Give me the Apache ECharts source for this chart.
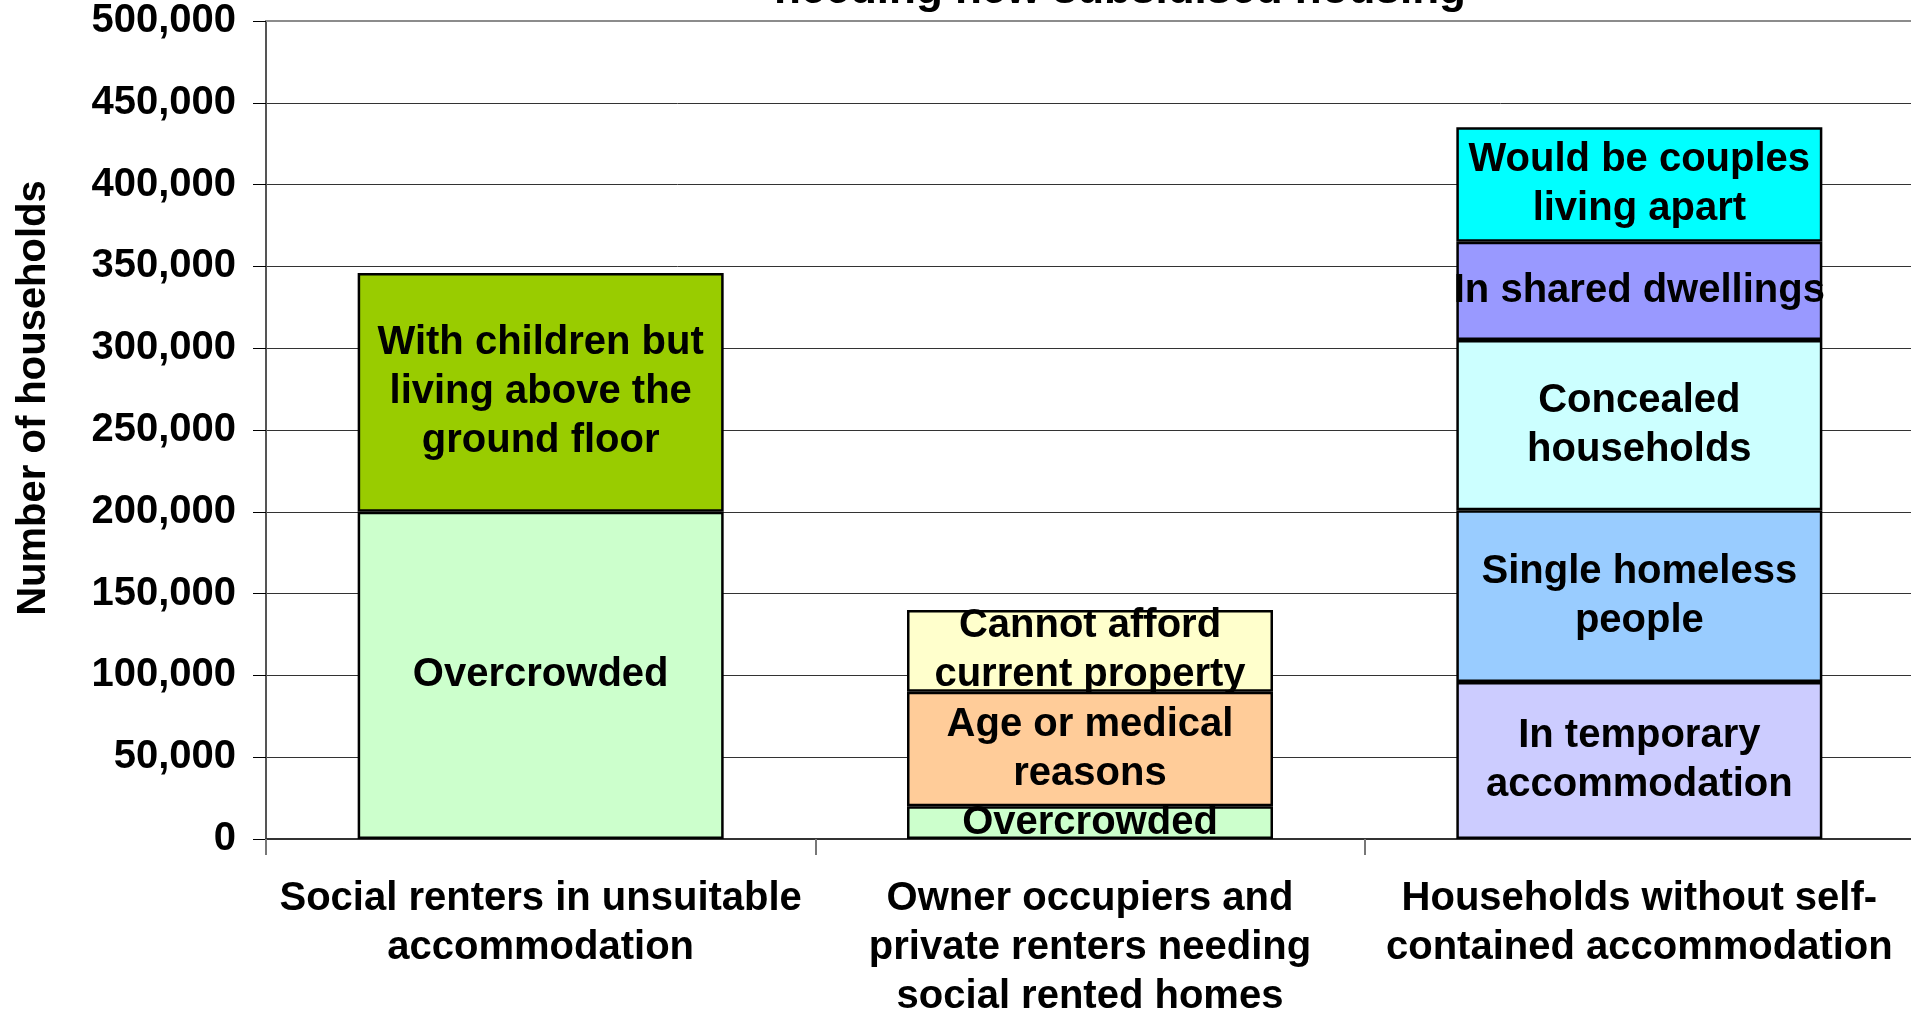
<!DOCTYPE html>
<html>
<head>
<meta charset="utf-8">
<script src="https://cdn.jsdelivr.net/npm/echarts@6/dist/echarts.min.js"></script>
<style>
  html, body { margin: 0; padding: 0; background: #fff; overflow: hidden; }
  #chart { position: fixed; left: 0; top: 0; width: 1911px; height: 1010px; }
</style>
</head>
<body>
<div id="chart"></div>
<script>
const titleText = 'needing new subsidised housing';
const yAxisName = 'Number of households';
const categories = [
  'Social renters in unsuitable\naccommodation',
  'Owner occupiers and\nprivate renters needing\nsocial rented homes',
  'Households without self-\ncontained accommodation'
];
const yTicks = [0, 50000, 100000, 150000, 200000, 250000, 300000, 350000, 400000, 450000, 500000];

const socialRenterSegments = ['Overcrowded', 'With children but\nliving above the\nground floor'];
const socialRenterValues = [200000, 146000];

const ownerOccupierSegments = ['Overcrowded', 'Age or medical\nreasons', 'Cannot afford\ncurrent property'];
const ownerOccupierValues = [20000, 70000, 50000];

const withoutSelfContainedSegments = ['In temporary\naccommodation', 'Single homeless\npeople', 'Concealed\nhouseholds', 'In shared dwellings', 'Would be couples\nliving apart'];
const withoutSelfContainedValues = [96000, 105000, 104000, 60000, 70000];

const socialRenterColors = ['#CCFFCC', '#99CC00'];
const ownerOccupierColors = ['#CCFFCC', '#FFCC99', '#FFFFCC'];
const withoutSelfContainedColors = ['#CCCCFF', '#99CCFF', '#CCFFFF', '#9999FF', '#00FFFF'];

const FONT = "'Liberation Sans', Arial, sans-serif";

const groups = [
  { names: socialRenterSegments, values: socialRenterValues, colors: socialRenterColors },
  { names: ownerOccupierSegments, values: ownerOccupierValues, colors: ownerOccupierColors },
  { names: withoutSelfContainedSegments, values: withoutSelfContainedValues, colors: withoutSelfContainedColors }
];

const series = [];
groups.forEach((g, gi) => {
  g.names.forEach((name, si) => {
    series.push({
      type: 'bar',
      name: name,
      stack: 'total',
      xAxisIndex: 0,
      barWidth: 366,
      data: categories.map((c, k) => (k === gi ? g.values[si] : '-')),
      itemStyle: { color: g.colors[si], borderColor: '#000', borderWidth: 2.5 },
      label: {
        show: true,
        position: 'inside',
        formatter: name,
        color: '#000',
        fontFamily: FONT,
        fontWeight: 'bold',
        fontSize: 40,
        lineHeight: 49,
        textBorderWidth: 0
      },
      emphasis: { disabled: true },
      silent: true
    });
  });
});

const chart = echarts.init(document.getElementById('chart'), null, { renderer: 'canvas', width: 1911, height: 1010 });
chart.setOption({
  animation: false,
  backgroundColor: '#ffffff',
  title: {
    text: titleText,
    left: 1115,
    top: -36,
    textAlign: 'center',
    textStyle: { fontFamily: FONT, fontWeight: 'bold', fontSize: 44, color: '#000' }
  },
  grid: { left: 266, top: 21, width: 1648, height: 818, containLabel: false, outerBoundsMode: 'none' },
  xAxis: [
    {
      type: 'category',
      data: categories,
      position: 'bottom',
      axisLine: { show: true, lineStyle: { color: '#333', width: 2 } },
      axisTick: { show: true, alignWithLabel: false, length: 16, lineStyle: { color: '#777', width: 2 } },
      axisLabel: {
        interval: 0,
        margin: 35,
        color: '#000',
        fontFamily: FONT,
        fontWeight: 'bold',
        fontSize: 40,
        lineHeight: 49
      },
      splitLine: { show: false }
    },
    {
      type: 'category',
      data: categories,
      position: 'top',
      axisLine: { show: true, lineStyle: { color: '#8c8c8c', width: 2 } },
      axisTick: { show: false },
      axisLabel: { show: false },
      splitLine: { show: false }
    }
  ],
  yAxis: {
    type: 'value',
    min: yTicks[0],
    max: yTicks[yTicks.length - 1],
    interval: yTicks[1] - yTicks[0],
    name: yAxisName,
    nameLocation: 'middle',
    nameRotate: 90,
    nameGap: 212,
    nameTextStyle: { fontFamily: FONT, fontWeight: 'bold', fontSize: 40, color: '#000', padding: [0, 0, 0, 64] },
    axisLine: { show: true, lineStyle: { color: '#555', width: 2 } },
    axisTick: { show: true, length: 13, lineStyle: { color: '#000', width: 1 } },
    axisLabel: {
      margin: 30,
      color: '#000',
      fontFamily: FONT,
      fontWeight: 'bold',
      fontSize: 40
    },
    splitLine: { show: true, lineStyle: { color: '#333', width: 1 } }
  },
  series: series
});
</script>
</body>
</html>
